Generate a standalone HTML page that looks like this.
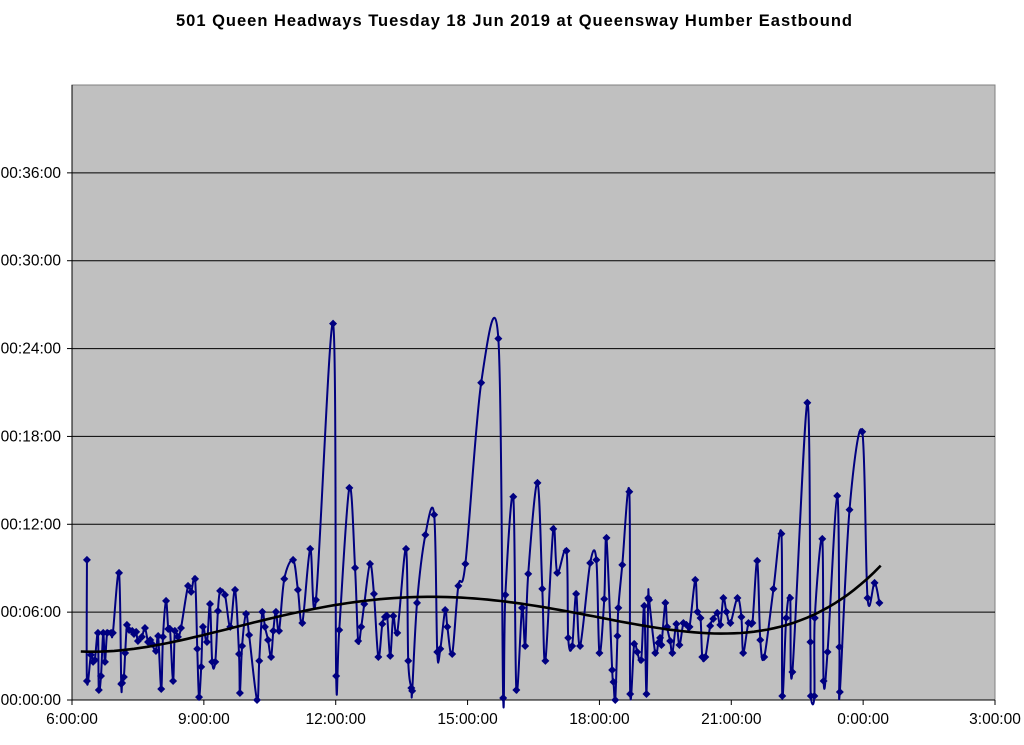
<!DOCTYPE html>
<html><head><meta charset="utf-8"><style>
html,body{margin:0;padding:0;background:#fff;}
svg{display:block;font-family:"Liberation Sans",Arial,sans-serif;}
</style></head><body>
<svg id="chart" width="1024" height="745" viewBox="0 0 1024 745" xmlns="http://www.w3.org/2000/svg">
<text x="514" y="26" text-anchor="middle" font-size="16.5" font-weight="bold" textLength="676" lengthAdjust="spacing">501 Queen Headways Tuesday 18 Jun 2019 at Queensway Humber Eastbound</text>
<rect x="72" y="85" width="923" height="615" fill="#c0c0c0" stroke="#808080" stroke-width="1"/>
<g id="grid"></g><g id="axes"></g><g id="series"></g><g id="trend"></g>
</svg>
<script>
const times=[6.34,6.34,6.43,6.48,6.52,6.59,6.61,6.66,6.71,6.75,6.8,6.89,6.93,7.07,7.12,7.14,7.18,7.21,7.25,7.3,7.37,7.41,7.46,7.5,7.59,7.66,7.73,7.78,7.82,7.91,7.96,8.03,8.07,8.14,8.19,8.23,8.3,8.34,8.41,8.48,8.64,8.71,8.8,8.85,8.89,8.94,8.98,9.07,9.14,9.19,9.26,9.32,9.37,9.48,9.6,9.71,9.8,9.82,9.87,9.96,10.03,10.21,10.26,10.33,10.39,10.46,10.53,10.58,10.64,10.71,10.83,11.03,11.14,11.24,11.42,11.55,11.94,12.01,12.08,12.31,12.44,12.51,12.58,12.65,12.78,12.87,12.97,13.06,13.12,13.17,13.24,13.31,13.4,13.6,13.65,13.72,13.74,13.85,14.04,14.24,14.31,14.38,14.49,14.54,14.65,14.79,14.95,15.31,15.7,15.81,15.86,16.04,16.11,16.24,16.31,16.38,16.59,16.7,16.77,16.95,17.04,17.25,17.29,17.38,17.47,17.56,17.79,17.93,18.0,18.11,18.16,18.29,18.32,18.36,18.41,18.43,18.52,18.68,18.7,18.79,18.86,18.95,19.02,19.07,19.11,19.13,19.27,19.34,19.38,19.41,19.5,19.54,19.61,19.66,19.75,19.82,19.91,19.98,20.05,20.18,20.23,20.3,20.34,20.41,20.52,20.59,20.68,20.75,20.82,20.89,20.98,21.14,21.23,21.27,21.39,21.48,21.59,21.66,21.75,21.96,22.14,22.16,22.25,22.34,22.39,22.73,22.8,22.81,22.89,22.9,23.07,23.1,23.19,23.41,23.46,23.47,23.69,23.98,24.1,24.26,24.37];
const headways=[9.57,1.3,3.08,2.6,2.73,4.58,0.68,1.64,4.58,2.6,4.58,4.58,4.58,8.68,1.09,1.16,1.57,3.21,5.13,4.78,4.72,4.51,4.65,4.03,4.31,4.92,3.96,4.1,3.83,3.35,4.37,0.75,4.31,6.77,4.85,4.85,1.3,4.72,4.31,4.92,7.79,7.38,8.27,3.49,0.2,2.26,4.99,3.96,6.56,2.6,2.6,6.08,7.45,7.18,4.99,7.52,3.14,0.48,3.69,5.88,4.44,0,2.67,6.02,4.99,4.1,2.94,4.72,6.02,4.72,8.27,9.57,7.52,5.26,10.32,6.84,25.7,1.64,4.78,14.49,9.02,4.03,4.99,6.56,9.3,7.25,2.94,5.19,5.67,5.74,3.01,5.74,4.58,10.32,2.67,0.82,0.62,6.63,11.28,12.65,3.28,3.49,6.15,4.99,3.14,7.79,9.3,21.67,24.68,0.14,7.18,13.88,0.68,6.29,3.69,8.61,14.83,7.59,2.67,11.69,8.68,10.18,4.24,3.69,7.25,3.69,9.36,9.57,3.21,6.9,11.07,2.05,1.23,0,4.37,6.29,9.23,14.22,0.41,3.83,3.28,2.73,6.43,0.41,6.97,6.84,3.21,3.9,4.24,3.76,6.63,4.99,4.03,3.21,5.19,3.76,5.26,5.13,4.99,8.2,6.02,5.6,2.94,2.94,5.06,5.54,5.95,5.13,6.97,6.02,5.26,6.97,5.67,3.21,5.26,5.26,9.5,4.1,2.94,7.59,11.35,0.27,5.6,6.97,1.91,20.3,3.96,0.27,0.27,5.6,11.0,1.3,3.28,13.94,3.62,0.55,12.99,18.32,6.97,8.0,6.63];
const trendHours=[6.2,9,12,14.3,15,18,20.3,22,23.5,24,24.4];
const trendValues=[3.3,4.5,6.4,7.1,7.0,5.5,4.7,5.1,6.5,8.0,9.4];
const yTicks=[0,6,12,18,24,30,36];
const yTickLabels=["00:00:00","00:06:00","00:12:00","00:18:00","00:24:00","00:30:00","00:36:00"];
const xTicks=[6,9,12,15,18,21,24,27];
const xTickLabels=["6:00:00","9:00:00","12:00:00","15:00:00","18:00:00","21:00:00","0:00:00","3:00:00"];

const NS="http://www.w3.org/2000/svg";
const X0=72,X1=995,Y0=700,Y1=85,XMIN=6,XMAX=27,YMIN=0,YMAX=42;
function xs(h){return X0+(h-XMIN)/(XMAX-XMIN)*(X1-X0);}
function ys(m){return Y0-(m-YMIN)/(YMAX-YMIN)*(Y0-Y1);}
function mk(tag,attrs,parent){const e=document.createElementNS(NS,tag);for(const k in attrs)e.setAttribute(k,attrs[k]);parent.appendChild(e);return e;}
const grid=document.getElementById('grid'),axes=document.getElementById('axes');
yTicks.forEach((t,i)=>{
  if(t>0){const g=mk('line',{x1:X0,x2:X1,y1:ys(t),y2:ys(t),stroke:'#000','stroke-width':1},grid);
  
  }
  const tk=mk('line',{x1:X0-5,x2:X0,y1:ys(t),y2:ys(t),stroke:'#000'},axes);
  
  
  const tx=mk('text',{x:61,y:ys(t)+5,'text-anchor':'end','font-size':15.5},axes);
  tx.textContent=yTickLabels[i];
  
  
});
xTicks.forEach((t,i)=>{
  const tk=mk('line',{x1:xs(t),x2:xs(t),y1:Y0,y2:Y0+5,stroke:'#000'},axes);
  
  
  const tx=mk('text',{x:xs(t),y:Y0+24,'text-anchor':'middle','font-size':15.5},axes);
  tx.textContent=xTickLabels[i];
  
  
});
const ax1=mk('line',{x1:X0,x2:X0,y1:Y1,y2:Y0,stroke:'#000'},axes);


const ax2=mk('line',{x1:X0,x2:X1,y1:Y0,y2:Y0,stroke:'#000'},axes);


function smooth(pts){
  let d='M'+pts[0][0]+','+pts[0][1];
  for(let i=0;i<pts.length-1;i++){
    const p0=pts[Math.max(0,i-1)],p1=pts[i],p2=pts[i+1],p3=pts[Math.min(pts.length-1,i+2)];
    const c1=[p1[0]+(p2[0]-p0[0])/6,p1[1]+(p2[1]-p0[1])/6];
    const c2=[p2[0]-(p3[0]-p1[0])/6,p2[1]-(p3[1]-p1[1])/6];
    d+=' C'+c1.join(',')+' '+c2.join(',')+' '+p2.join(',');
  }
  return d;
}
const series=document.getElementById('series');
const pts=times.map((t,i)=>[xs(t),ys(headways[i])]);
const line=mk('path',{d:smooth(pts),fill:'none',stroke:'#000080','stroke-width':2},series);


pts.forEach(p=>{
  const r=4;
  const m=mk('polygon',{points:`${p[0]},${p[1]-r} ${p[0]+r},${p[1]} ${p[0]},${p[1]+r} ${p[0]-r},${p[1]}`,fill:'#000080'},series);
  
  
});
function polyfit(xv,yv,deg){
  const n=deg+1,A=[],b=[];
  for(let i=0;i<n;i++){A.push(new Array(n).fill(0));b.push(0);}
  xv.forEach((x,k)=>{for(let i=0;i<n;i++){b[i]+=yv[k]*Math.pow(x,i);for(let j=0;j<n;j++)A[i][j]+=Math.pow(x,i+j);}});
  for(let i=0;i<n;i++){let p=i;for(let r=i+1;r<n;r++)if(Math.abs(A[r][i])>Math.abs(A[p][i]))p=r;
    [A[i],A[p]]=[A[p],A[i]];[b[i],b[p]]=[b[p],b[i]];
    for(let r=i+1;r<n;r++){const f=A[r][i]/A[i][i];for(let c=i;c<n;c++)A[r][c]-=f*A[i][c];b[r]-=f*b[i];}}
  const c=new Array(n).fill(0);
  for(let i=n-1;i>=0;i--){let s=b[i];for(let j=i+1;j<n;j++)s-=A[i][j]*c[j];c[i]=s/A[i][i];}
  return c;
}
const tx0=trendHours.map(h=>h-15);
const coef=polyfit(tx0,trendValues,4);
let td='';
const hStart=trendHours[0],hEnd=trendHours[trendHours.length-1];
for(let k=0;k<=120;k++){
  const h=hStart+(hEnd-hStart)*k/120,u=h-15;
  let v=0;coef.forEach((c,i)=>v+=c*Math.pow(u,i));
  td+=(k?' L':'M')+xs(h).toFixed(1)+','+ys(v).toFixed(1);
}
const tr=mk('path',{d:td,fill:'none',stroke:'#000','stroke-width':2.6},document.getElementById('trend'));


</script>
</body></html>
